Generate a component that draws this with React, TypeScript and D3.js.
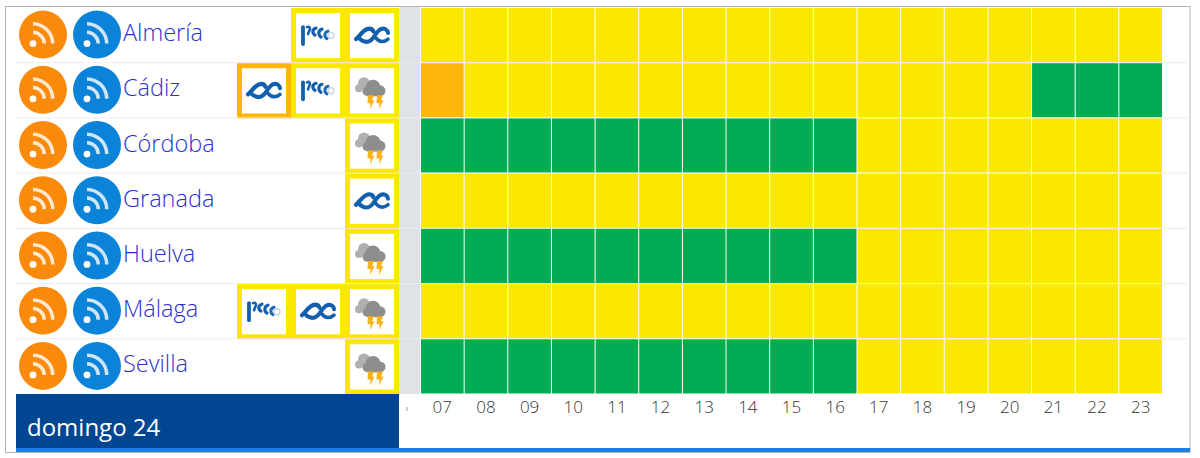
import React from "react";
import * as d3 from "d3";

const provinces = ["Almería", "Cádiz", "Córdoba", "Granada", "Huelva", "Málaga", "Sevilla"];
const hours = ["07","08","09","10","11","12","13","14","15","16","17","18","19","20","21","22","23"];
const almeria = [1,1,1,1,1,1,1,1,1,1,1,1,1,1,1,1,1];
const cadiz = [2,1,1,1,1,1,1,1,1,1,1,1,1,1,0,0,0];
const cordoba = [0,0,0,0,0,0,0,0,0,0,1,1,1,1,1,1,1];
const granada = [1,1,1,1,1,1,1,1,1,1,1,1,1,1,1,1,1];
const huelva = [0,0,0,0,0,0,0,0,0,0,1,1,1,1,1,1,1];
const malaga = [1,1,1,1,1,1,1,1,1,1,1,1,1,1,1,1,1];
const sevilla = [0,0,0,0,0,0,0,0,0,0,1,1,1,1,1,1,1];
const levelRows = [almeria, cadiz, cordoba, granada, huelva, malaga, sevilla];

type W = [string, number];
const warnAlmeria: W[] = [["wind",1],["wave",1]];
const warnCadiz: W[] = [["wave",2],["wind",1],["storm",1]];
const warnCordoba: W[] = [["storm",1]];
const warnGranada: W[] = [["wave",1]];
const warnHuelva: W[] = [["storm",1]];
const warnMalaga: W[] = [["wind",1],["wave",1],["storm",1]];
const warnSevilla: W[] = [["storm",1]];
const warnRows = [warnAlmeria, warnCadiz, warnCordoba, warnGranada, warnHuelva, warnMalaga, warnSevilla];
const dayLabel = "domingo 24";

const levelColor = d3.scaleOrdinal<number, string>().domain([0,1,2]).range(["#00ad55","#fbe800","#ffb60a"]);
const FONT = "'Open Sans', sans-serif";

function Rss({ cx, cy, fill }: { cx: number; cy: number; fill: string }) {
  const arc1 = d3.arc()({ innerRadius: 9.5, outerRadius: 13, startAngle: 0, endAngle: Math.PI / 2 }) as string;
  const arc2 = d3.arc()({ innerRadius: 18, outerRadius: 21.5, startAngle: 0, endAngle: Math.PI / 2 }) as string;
  return (
    <g transform={`translate(${cx},${cy})`}>
      <circle r={24} fill={fill} />
      <g transform="translate(-10,9)" fill="#fff" fillOpacity={0.8}>
        <circle r={3.4} fillOpacity={1} />
        <path d={arc1} />
        <path d={arc2} />
      </g>
    </g>
  );
}

function Wave() {
  return (
    <g fill="none" stroke="#1260ad" strokeLinecap="round">
      <path d="M-16 4 C-12 1,-9 -6,-3 -6.5 C0 -6.5,1 -5,1.5 -3.5" strokeWidth={4.2} />
      <path d="M-13 3 C-9 7,-5 8,-1 5 C3 2,5 -6,11 -6.5 C14 -6.5,16 -4,16 -2" strokeWidth={4} />
      <path d="M4 3 C7 7,12 7.5,16 4" strokeWidth={3.6} />
    </g>
  );
}

function Wind() {
  return (
    <g fill="none" strokeLinecap="round">
      <path d="M-15 -8 L-15 9" stroke="#1260ad" strokeWidth={3.8} />
      <path d="M-11 -8 C-9 -9,-8 -8,-8 -6 L-10 -1" stroke="#1260ad" strokeWidth={2.6} />
      <path d="M-2 -7 C-6 -6,-6 -2,-3 0" stroke="#1260ad" strokeWidth={3.2} />
      <path d="M4 -6 C0 -5,0 0,3 2" stroke="#1260ad" strokeWidth={3.2} />
      <path d="M10 -4 C6 -3,6 2,9 3.5" stroke="#1a6ab5" strokeWidth={3} />
      <circle cx={13} cy={0.5} r={3} stroke="#c4d5e6" strokeWidth={1.4} />
    </g>
  );
}

function Storm() {
  return (
    <g transform="translate(-1,-1)">
      <g fill="#b0b0b0">
        <circle cx={-7} cy={-6} r={6} />
        <circle cx={-12} cy={-1} r={4} />
        <circle cx={-3} cy={-3} r={5} />
      </g>
      <g fill="#8e8e8e">
        <circle cx={2} cy={-2} r={7.5} />
        <circle cx={-4} cy={2} r={4.5} />
        <circle cx={9} cy={1.5} r={5.5} />
        <rect x={-4} y={1} width={14} height={6} />
      </g>
      <g fill="#f7b318">
        <path d="M-3 6 L3 6 L1 11 L3.5 11 L-1 20 L-0.5 14 L-3.5 14 Z" />
        <path d="M6 6 L12 6 L10 11 L12.5 11 L8 20 L8.5 14 L5.5 14 Z" />
      </g>
    </g>
  );
}

const iconFor: Record<string, () => React.ReactElement> = { wave: Wave, wind: Wind, storm: Storm };

export default function App() {
  const x = d3.scaleBand<string>().domain(hours).range([421, 1163]);
  const y = d3.scaleBand<string>().domain(provinces).range([7.5, 394]);
  const bw = x.bandwidth();
  const bh = y.bandwidth();
  return (
    <svg width={1200} height={458} style={{ position: "absolute", left: 0, top: 0, background: "#fff" }}>
      <rect x={5.5} y={6.5} width={1184.5} height={446} fill="#fff" stroke="#b4b4b4" strokeWidth={1} />
      <rect x={399} y={7} width={21} height={387} fill="#dfe2e7" />
      {provinces.map((p, i) => {
        const ry = y(p) as number;
        const cy = ry + bh / 2;
        const warns = warnRows[i];
        return (
          <g key={p}>
            {i > 0 && <line x1={16} x2={1190} y1={ry} y2={ry} stroke="#ececec" />}
            <Rss cx={43} cy={cy - 0.5} fill="#fa8a0b" />
            <Rss cx={97} cy={cy - 0.5} fill="#0b83d9" />
            <text x={123} y={cy + 6} fontFamily={FONT} fontWeight={300} fontSize={23.5} fill="#2f2fd0">{p}</text>
            {warns.map(([kind, lvl], k) => {
              const bx = 399 - 54 * (warns.length - k);
              const Icon = iconFor[kind];
              return (
                <g key={kind}>
                  <rect x={bx + 2.5} y={ry + 3} width={49} height={bh - 5} fill="#fff"
                    stroke={levelColor(lvl)} strokeWidth={5} />
                  <g transform={`translate(${bx + 27},${cy})`}><Icon /></g>
                </g>
              );
            })}
            {hours.map((h, j) => (
              <rect key={h} x={x(h)} y={ry + 0.5} width={bw - 1} height={bh - 1}
                fill={levelColor(levelRows[i][j])} />
            ))}
          </g>
        );
      })}
      <rect x={16} y={394} width={383} height={55} fill="#004691" />
      <rect x={16} y={448} width={1174} height={4} fill="#1a7fe0" />
      <text x={27} y={436} fontFamily={FONT} fontSize={24} fill="#fff">{dayLabel}</text>
      <line x1={407} x2={407} y1={407} y2={411} stroke="#999" />
      {hours.map(h => (
        <text key={h} x={(x(h) as number) + bw / 2 - 0.5} y={413} textAnchor="middle"
          fontFamily={FONT} fontWeight={300} fontSize={17} fill="#333">{h}</text>
      ))}
    </svg>
  );
}
